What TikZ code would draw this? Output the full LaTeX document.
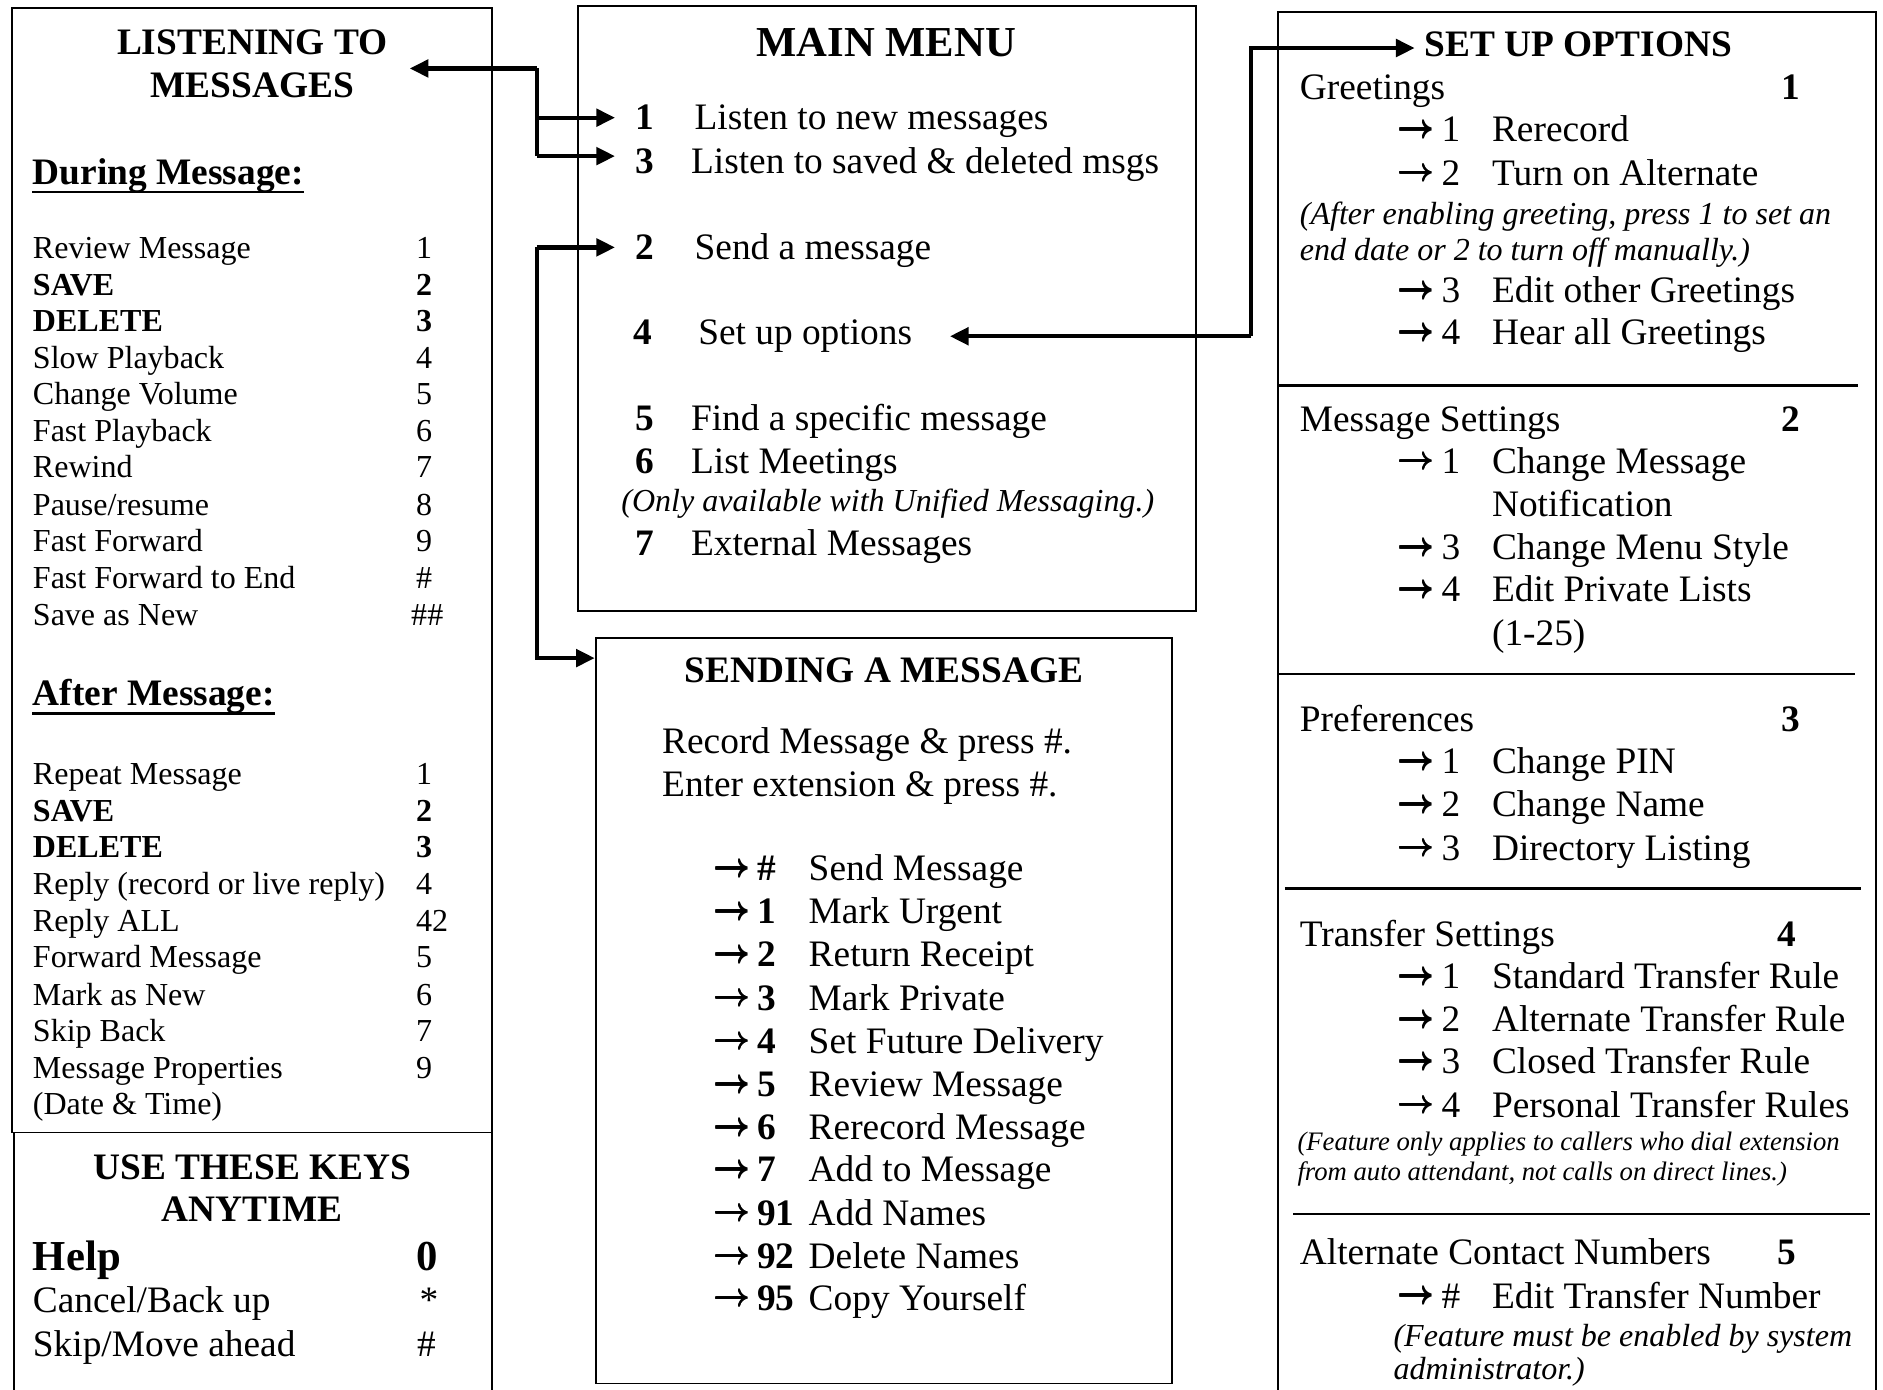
\documentclass[tikz,border=0pt]{standalone}
\usepackage{fontspec}
\setmainfont{Liberation Serif}
\usetikzlibrary{arrows.meta,fit}
\newcommand\arr{\raisebox{1.6pt}{\fontsize{12.2}{14}\selectfont\boldmath\rlap{$\rightarrow$}\rlap{\raisebox{0.3pt}{$\rightarrow$}}\raisebox{-0.3pt}{$\rightarrow$}}}
\newcommand\lrow[4]{%
  \node[t12] (#1) at (27,#2) {#3};
  \node[t12] (#1n) at (346,#2) {#4};}
\newcommand\srow[4]{%
  \node[t14b] (#1a) at (594,#2) {\arr};
  \node[t14b] (#1k) at (630,#2) {#3};
  \node[t14] (#1) at (673,#2) {#4};}
\newcommand\orow[4]{%
  \node[t14b] (#1a) at (1163,#2) {\arr};
  \node[t14] (#1k) at (1200,#2) {#3};
  \node[t14] (#1) at (1242,#2) {#4};}
\begin{document}
\begin{tikzpicture}[x=0.45pt,y=-0.45pt,
  box/.style={draw, line width=0.7pt, inner sep=0pt},
  divider/.style={line width=0.9pt},
  conn/.style={line width=1.6pt, line join=miter, -{Triangle[length=7pt,width=6.5pt]}},
  spine/.style={line width=1.6pt},
  t12/.style={anchor=base west, inner sep=0pt, yshift=-4pt, font=\fontsize{12}{13.8}\selectfont},
  t12i/.style={t12, font=\fontsize{12}{13.8}\selectfont\itshape},
  t10i/.style={anchor=base west, inner sep=0pt, yshift=-3.3pt, font=\fontsize{10}{11.5}\selectfont\itshape},
  t14/.style={anchor=base west, inner sep=0pt, yshift=-4.6pt, font=\fontsize{14}{16.1}\selectfont},
  t14b/.style={t14, font=\fontsize{14}{16.1}\selectfont\bfseries},
  c14b/.style={t14b, anchor=base},
  t16b/.style={anchor=base west, inner sep=0pt, yshift=-5.3pt, font=\fontsize{16}{18.4}\selectfont\bfseries},
  c16b/.style={t16b, anchor=base},
  uline/.style={line width=1pt}
]
\useasboundingbox (0,0) rectangle (1568,1157);
\clip (0,0) rectangle (1568,1157);

% ---------- boxes ----------
\node[box, fit={(10,7) (410,943)}] (listen) {};
\node[box, fit={(12,943) (410,1180)}] (keys) {};
\node[box, fit={(481,5) (996,509)}] (main) {};
\node[box, fit={(496,531) (976,1152)}] (send) {};
\node[box, line width=0.9pt, fit={(1064,10) (1562,1180)}] (setup) {};

% ---------- listening to messages ----------
\node[c14b] (lt1) at (210,35) {LISTENING TO};
\node[c14b] (lt2) at (210,71) {MESSAGES};
\node[t14b] (dm) at (27,143) {During Message:};
\draw[uline] ([yshift=-3pt]dm.base west) -- ([yshift=-3pt]dm.base east);
\lrow{d1}{206}{Review Message}{1}
\lrow{d2}{237}{\textbf{SAVE}}{\textbf{2}}
\lrow{d3}{267}{\textbf{DELETE}}{\textbf{3}}
\lrow{d4}{298}{Slow Playback}{4}
\lrow{d5}{328}{Change Volume}{5}
\lrow{d6}{359}{Fast Playback}{6}
\lrow{d7}{389}{Rewind}{7}
\lrow{d8}{420}{Pause/resume}{8}
\lrow{d9}{450}{Fast Forward}{9}
\lrow{d10}{481}{Fast Forward to End}{\#}
\node[t12] (d11) at (27,512) {Save as New};
\node[t12] (d11n) at (342,512) {\#\#};
\node[t14b] (am) at (27,577) {After Message:};
\draw[uline] ([yshift=-3pt]am.base west) -- ([yshift=-3pt]am.base east);
\lrow{a1}{644}{Repeat Message}{1}
\lrow{a2}{675}{\textbf{SAVE}}{\textbf{2}}
\lrow{a3}{705}{\textbf{DELETE}}{\textbf{3}}
\lrow{a4}{736}{Reply (record or live reply)}{4}
\lrow{a5}{767}{Reply ALL}{42}
\lrow{a6}{797}{Forward Message}{5}
\lrow{a7}{828}{Mark as New}{6}
\lrow{a8}{858}{Skip Back}{7}
\lrow{a9}{889}{Message Properties}{9}
\node[t12] (a10) at (27,919) {(Date \& Time)};

% ---------- use these keys ----------
\node[c14b] (kt1) at (210,972) {USE THESE KEYS};
\node[c14b] (kt2) at (210,1007) {ANYTIME};
\node[t16b] (k1) at (27,1046) {Help};
\node[t16b] (k1n) at (346,1046) {0};
\node[t14] (k2) at (27,1083) {Cancel/Back up};
\node[t14] (k2n) at (349,1083) {*};
\node[t14] (k3) at (27,1119) {Skip/Move ahead};
\node[t14] (k3n) at (347,1119) {\#};

% ---------- main menu ----------
\node[c16b] (mt) at (738,35) {MAIN MENU};
\node[t14b] (m1) at (529,98) {1};
\node[t14] (m1t) at (578,98) {Listen to new messages};
\node[t14b] (m3) at (529,134) {3};
\node[t14] (m3t) at (575,134) {Listen to saved \& deleted msgs};
\node[t14b] (m2) at (529,206) {2};
\node[t14] (m2t) at (578,206) {Send a message};
\node[t14b] (m4) at (527,277) {4};
\node[t14] (m4t) at (581,277) {Set up options};
\node[t14b] (m5) at (529,348) {5};
\node[t14] (m5t) at (575,348) {Find a specific message};
\node[t14b] (m6) at (529,384) {6};
\node[t14] (m6t) at (575,384) {List Meetings};
\node[t12i] (mi) at (517,417) {(Only available with Unified Messaging.)};
\node[t14b] (m7) at (529,452) {7};
\node[t14] (m7t) at (575,452) {External Messages};

% ---------- sending a message ----------
\node[c14b] (st) at (736,558) {SENDING A MESSAGE};
\node[t14] (sr1) at (551,617) {Record Message \& press \#.};
\node[t14] (sr2) at (551,653) {Enter extension \& press \#.};
\srow{s1}{723}{\#}{Send Message}
\srow{s2}{759}{1}{Mark Urgent}
\srow{s3}{795}{2}{Return Receipt}
\srow{s4}{831}{3}{Mark Private}
\srow{s5}{867}{4}{Set Future Delivery}
\srow{s6}{903}{5}{Review Message}
\srow{s7}{939}{6}{Rerecord Message}
\srow{s8}{974}{7}{Add to Message}
\srow{s9}{1010}{91}{Add Names}
\srow{s10}{1046}{92}{Delete Names}
\srow{s11}{1081}{95}{Copy Yourself}

% ---------- set up options ----------
\node[t14b] (so) at (1186,37) {SET UP OPTIONS};
\node[t14] (g) at (1082,73) {Greetings};
\node[t14b] (gn) at (1483,73) {1};
\orow{g1}{108}{1}{Rerecord}
\orow{g2}{144}{2}{Turn on Alternate}
\node[t12i] (gi1) at (1082,178) {(After enabling greeting, press 1 to set an};
\node[t12i] (gi2) at (1082,208) {end date or 2 to turn off manually.)};
\orow{g3}{242}{3}{Edit other Greetings}
\orow{g4}{277}{4}{Hear all Greetings}
\draw[divider] (1064,321) -- (1547,321);
\node[t14] (ms) at (1082,349) {Message Settings};
\node[t14b] (msn) at (1483,349) {2};
\orow{ms1}{384}{1}{Change Message}
\node[t14] (ms1b) at (1242,420) {Notification};
\orow{ms3}{456}{3}{Change Menu Style}
\orow{ms4}{491}{4}{Edit Private Lists}
\node[t14] (ms4b) at (1242,527) {(1-25)};
\draw[divider] (1064,561) -- (1545,561);
\node[t14] (pr) at (1082,599) {Preferences};
\node[t14b] (prn) at (1483,599) {3};
\orow{pr1}{634}{1}{Change PIN}
\orow{pr2}{670}{2}{Change Name}
\orow{pr3}{706}{3}{Directory Listing}
\draw[divider] (1070,740) -- (1550,740);
\node[t14] (tr) at (1082,778) {Transfer Settings};
\node[t14b] (trn) at (1480,778) {4};
\orow{tr1}{813}{1}{Standard Transfer Rule}
\orow{tr2}{849}{2}{Alternate Transfer Rule}
\orow{tr3}{884}{3}{Closed Transfer Rule}
\orow{tr4}{920}{4}{Personal Transfer Rules}
\node[t10i] (tri1) at (1080,951) {(Feature only applies to callers who dial extension};
\node[t10i] (tri2) at (1080,976) {from auto attendant, not calls on direct lines.)};
\draw[divider] (1077,1011) -- (1557,1011);
\node[t14] (ac) at (1082,1043) {Alternate Contact Numbers};
\node[t14b] (acn) at (1480,1043) {5};
\orow{ac1}{1079}{\#}{Edit Transfer Number}
\node[t12i] (aci1) at (1160,1112) {(Feature must be enabled by system};
\node[t12i] (aci2) at (1160,1140) {administrator.)};

% ---------- connectors ----------
\coordinate (jA) at (447,57);
\coordinate (jB) at (447,98);
\coordinate (jC) at (447,130);
\draw[spine] (jA) -- (jC);
\draw[conn, shorten >=8.2pt] (jA) -- (jA -| lt1.east);
\draw[conn, shorten >=7.6pt] (jB) -- (jB -| m1.west);
\draw[conn, shorten >=7.6pt] (jC) -- (jC -| m3.west);

\coordinate (jD) at (447,206);
\coordinate (jE) at (447,548);
\draw[conn, shorten >=7.6pt] (jD) -- (jD -| m2.west);
\draw[conn] (jD) -- (jE) -- (jE -| send.west);

\coordinate (jF) at (1042,280);
\coordinate (jG) at (1042,40);
\draw[conn, shorten >=14pt] (jF) -- (jF -| m4t.east);
\draw[conn, shorten >=3.6pt] (jF) -- (jG) -- (jG -| so.west);
\end{tikzpicture}
\end{document}
